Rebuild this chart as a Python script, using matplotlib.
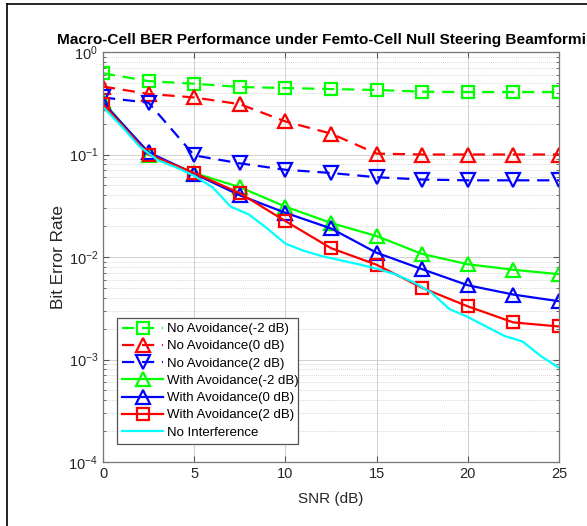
import matplotlib
matplotlib.use("Agg")
import matplotlib.pyplot as plt
import numpy as np
from matplotlib.lines import Line2D

plt.rcParams['font.family'] = ['Liberation Sans', 'DejaVu Sans']
plt.rcParams['axes.unicode_minus'] = False
plt.rcParams['mathtext.default'] = 'regular'

snr = [0, 2.5, 5, 7.5, 10, 12.5, 15, 17.5, 20, 22.5, 25]
no_avoid_m2 = [0.62, 0.52, 0.49, 0.456, 0.445, 0.435, 0.426, 0.41, 0.407, 0.407, 0.407]
no_avoid_0 = [0.46, 0.39, 0.36, 0.31, 0.21, 0.16, 0.102, 0.1, 0.1, 0.1, 0.1]
no_avoid_2 = [0.36, 0.32, 0.098, 0.082, 0.071, 0.066, 0.06, 0.057, 0.056, 0.056, 0.056]
with_avoid_m2 = [0.33, 0.1, 0.066, 0.048, 0.031, 0.0215, 0.016, 0.0107, 0.0085, 0.0075, 0.0068]
with_avoid_0 = [0.32, 0.105, 0.065, 0.040, 0.027, 0.019, 0.011, 0.0076, 0.0053, 0.0043, 0.0037]
with_avoid_2 = [0.31, 0.1, 0.066, 0.042, 0.0224, 0.0122, 0.0084, 0.0050, 0.0033, 0.0023, 0.0021]
snr_fine = list(range(0, 26))
no_interf = [0.29, 0.19, 0.12, 0.088, 0.075, 0.062, 0.048, 0.031, 0.026, 0.019,
             0.0135, 0.0115, 0.0102, 0.0093, 0.0085, 0.0077, 0.0068, 0.0057, 0.0045,
             0.0031, 0.0026, 0.0021, 0.0017, 0.0015, 0.00108, 0.00083]

labels = ['No Avoidance(-2 dB)', 'No Avoidance(0 dB)', 'No Avoidance(2 dB)',
          'With Avoidance(-2 dB)', 'With Avoidance(0 dB)', 'With Avoidance(2 dB)',
          'No Interference']

W, H = 587, 526
fig = plt.figure(figsize=(W/100, H/100), dpi=100)
ax = fig.add_axes([103/W, 1-462/H, 456/W, 410/H])

lw = 1.6
ms = 9
mew = 1.6
dash = (0, (5.5, 3.5))
ax.plot(snr, no_avoid_m2, color='#00ff00', ls=dash, lw=lw, marker='s', ms=ms, mfc='none', mew=mew, label=labels[0])
ax.plot(snr, no_avoid_0, color='#ff0000', ls=dash, lw=lw, marker='^', ms=ms+1, mfc='none', mew=mew, label=labels[1])
ax.plot(snr, no_avoid_2, color='#0000ff', ls=dash, lw=lw, marker='v', ms=ms+1, mfc='none', mew=mew, label=labels[2])
ax.plot(snr, with_avoid_m2, color='#00ff00', ls='-', lw=lw, marker='^', ms=ms+1, mfc='none', mew=mew, label=labels[3])
ax.plot(snr, with_avoid_0, color='#0000ff', ls='-', lw=lw, marker='^', ms=ms+1, mfc='none', mew=mew, label=labels[4])
ax.plot(snr, with_avoid_2, color='#ff0000', ls='-', lw=lw, marker='s', ms=ms, mfc='none', mew=mew, label=labels[5])
ax.plot(snr_fine, no_interf, color='#00ffff', ls='-', lw=lw, label=labels[6])

ax.set_yscale('log')
ax.set_xlim(0, 25)
ax.set_ylim(1e-4, 1)
ax.set_xticks([0, 5, 10, 15, 20, 25])
ax.set_yticks([1e-4, 1e-3, 1e-2, 1e-1, 1])
ax.grid(True, which='major', color='#d0d0d0', lw=0.7, ls='-')
ax.grid(True, which='minor', axis='y', color='#c8c8c8', lw=0.6, ls=(0, (1, 1.5)))
ax.tick_params(which='both', direction='in', top=True, right=True, colors='#555555',
               labelcolor='#262626', labelsize=10.5)
ax.tick_params(which='major', length=4)
ax.tick_params(which='minor', length=2.5)
for s in ax.spines.values():
    s.set_color('#777777')
    s.set_linewidth(0.9)
ax.set_axisbelow(True)

ax.set_xlabel('SNR (dB)', fontsize=11, color='#262626', labelpad=8)
ax.set_ylabel('Bit Error Rate', fontsize=12.3, color='#262626', labelpad=2)
ax.set_title('Macro-Cell BER Performance under Femto-Cell Null Steering Beamforming',
             fontsize=11.1, fontweight='bold', pad=6)

leg = ax.legend(loc='lower left', bbox_to_anchor=(0.0307, 0.0439, 0.397, 0.346), mode='expand',
                fontsize=9.5, handlelength=3.1, handletextpad=0.3, borderaxespad=0,
                labelspacing=0.38, fancybox=False, framealpha=1, borderpad=0.4)
leg.get_frame().set_edgecolor('#555555')
leg.get_frame().set_linewidth(0.9)

# outer frame of the picture
fig.add_artist(Line2D([7/W, 7/W], [0, 1-4/H], color='black', lw=1.2, transform=fig.transFigure))
fig.add_artist(Line2D([7/W, 1], [1-4/H, 1-4/H], color='black', lw=1.2, transform=fig.transFigure))

fig.savefig('out.png', dpi=100)
